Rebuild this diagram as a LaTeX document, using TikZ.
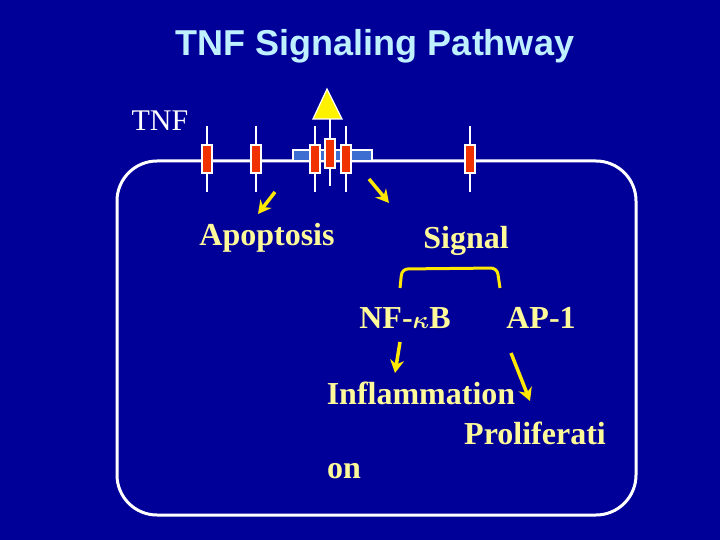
\documentclass[tikz,border=0pt]{standalone}
\usepackage{fontspec}
\usetikzlibrary{arrows.meta}
\setmainfont{Liberation Serif}
\newfontfamily\arialf{Liberation Sans}
\begin{document}
\begin{tikzpicture}[x=1pt,y=-1pt,
  lbl/.style={text=yellow!40!white,font=\fontsize{32}{34}\selectfont\bfseries,inner sep=0},
  wl/.style={draw=white,line width=3pt},
  rec/.style={draw=white,line width=1.2pt,fill={rgb,255:red,240;green,50;blue,0}},
  yarr/.style={draw=yellow!90!orange,line width=3.5pt,-{Stealth[length=13pt,width=14pt]}}]
\fill[fill={rgb,255:red,0;green,0;blue,153}] (0,0) rectangle (720,540);
\useasboundingbox (0,0) rectangle (720,540);
\node[text={rgb,255:red,190;green,240;blue,255},font=\arialf\fontsize{36}{38}\selectfont\bfseries] (title) at (375,46) {TNF Signaling Pathway};
\node[text=white,font=\fontsize{30}{32}\selectfont,inner sep=0] (tnf) at (160,121) {TNF};
\draw[wl,rounded corners=40pt] (117,161) rectangle (636,515);
\draw[wl,line width=2.5pt] (150,161) -- (600,161);
\fill[fill={rgb,255:red,60;green,110;blue,210},draw=white,line width=1.2pt] (293,150) rectangle (372,161);
\foreach \x/\t/\b in {207/126/192,256/126/192,315/126/192,346/126/192,470/126/192}
  \draw[draw=white,line width=2.5pt] (\x,\t) -- (\x,\b);
\draw[draw=white,line width=2.5pt] (330,118) -- (330,186);
\foreach \x in {207,256,315,346,470}
  \draw[rec] (\x-5,145) rectangle (\x+5,173);
\draw[rec] (325,139) rectangle (335,168);
\fill[yellow,draw=white,line width=1.2pt] (327,89) -- (342,119) -- (313,119) -- cycle;
\coordinate (a1) at (275,192); \coordinate (a2) at (258,214);
\coordinate (b1) at (369,179); \coordinate (b2) at (389,203);
\draw[yarr] (a1) -- (a2);
\draw[yarr] (b1) -- (b2);
\node[lbl] (apo) at (267,238) {Apoptosis};
\node[lbl] (sig) at (466,241) {Signal};
\draw[draw=yellow!90!orange,line width=3pt,rounded corners=6pt] (400,288) -- (402,269) -- (497,268) -- (500,288);
\node[lbl] (nfkb) at (405,318) {NF-{\boldmath$\kappa$}B};
\node[lbl] (ap1) at (541,318) {AP-1};
\coordinate (c1) at (400,342); \coordinate (c2) at (395,373);
\coordinate (d1) at (511,353); \coordinate (d2) at (530,401);
\draw[yarr] (c1) -- (c2);
\draw[yarr] (d1) -- (d2);
\node[lbl] (inf) at (421,393) {Inflammation};
\node[lbl] (pro) at (535,433) {Proliferati};
\node[lbl] (on) at (344,471) {on};
\end{tikzpicture}
\end{document}
